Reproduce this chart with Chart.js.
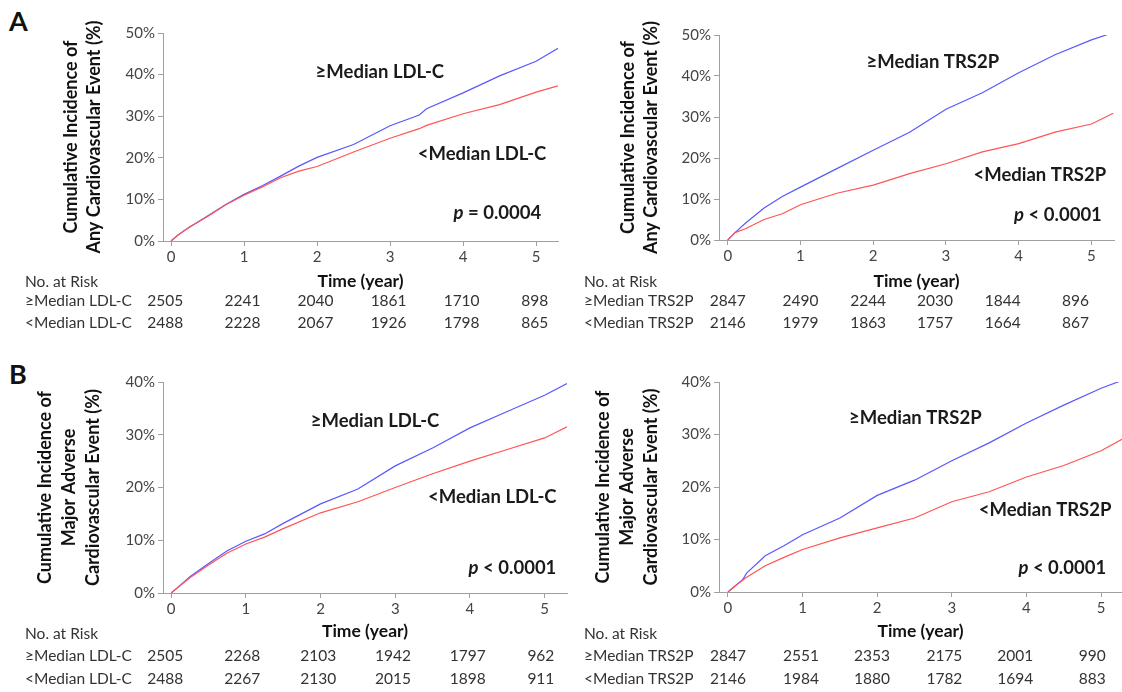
<!DOCTYPE html>
<html>
<head>
<meta charset="utf-8">
<script src="https://cdn.jsdelivr.net/npm/chart.js@4.4.0/dist/chart.umd.min.js"></script>
<style>
  body { margin: 0; background: #fff; width: 1122px; height: 692px; position: relative; overflow: hidden; font-family: Lato, sans-serif; }
  .panel { position: absolute; }
  .tag { position: absolute; font: bold 27px Lato, sans-serif; color: #111; }
</style>
</head>
<body>
<div class="tag" style="left:9px;top:4px">A</div>
<div class="tag" style="left:9px;top:357px">B</div>
<div class="panel" style="left:20px;top:20px;width:550px;height:320px"><canvas id="aLdl"></canvas></div>
<div class="panel" style="left:580px;top:20px;width:542px;height:320px"><canvas id="aTrs"></canvas></div>
<div class="panel" style="left:20px;top:370px;width:550px;height:322px"><canvas id="bLdl"></canvas></div>
<div class="panel" style="left:580px;top:370px;width:542px;height:322px"><canvas id="bTrs"></canvas></div>
<script>
// x axis ticks (years) shared by all panels
const yearTicks = [0, 1, 2, 3, 4, 5];

// A left: any cardiovascular event, split by LDL-C
const aLdlYears = [0, 0.1, 0.25, 0.5, 0.75, 1, 1.25, 1.5, 1.75, 2, 2.5, 3, 3.4, 3.5, 4, 4.5, 5, 5.3];
const aLdlHigh = [0, 1.5, 3.3, 6.0, 8.8, 11.2, 13.3, 15.6, 18.0, 20.1, 23.2, 27.7, 30.3, 31.8, 35.6, 39.7, 43.2, 46.3];
const aLdlLow = [0, 1.5, 3.3, 5.9, 8.7, 11.0, 13.0, 15.2, 16.8, 17.9, 21.4, 24.7, 27.0, 27.8, 30.6, 32.8, 35.8, 37.3];
const aLdlRiskHigh = [2505, 2241, 2040, 1861, 1710, 898];
const aLdlRiskLow = [2488, 2228, 2067, 1926, 1798, 865];

// A right: any cardiovascular event, split by TRS2P
const aTrsYears = [0, 0.1, 0.25, 0.5, 0.75, 1, 1.5, 2, 2.5, 3, 3.5, 4, 4.5, 5, 5.3];
const aTrsHigh = [0, 1.8, 4.2, 7.8, 10.6, 12.9, 17.4, 21.9, 26.3, 31.9, 35.9, 40.8, 45.2, 48.8, 50.6];
const aTrsLow = [0, 1.8, 2.8, 5.0, 6.4, 8.6, 11.4, 13.4, 16.2, 18.6, 21.5, 23.5, 26.3, 28.3, 30.9];
const aTrsRiskHigh = [2847, 2490, 2244, 2030, 1844, 896];
const aTrsRiskLow = [2146, 1979, 1863, 1757, 1664, 867];

// B left: major adverse cardiovascular event, split by LDL-C
const bLdlYears = [0, 0.1, 0.25, 0.5, 0.75, 1, 1.25, 1.5, 2, 2.5, 3, 3.5, 4, 4.5, 5, 5.3];
const bLdlHigh = [0, 1.2, 3.1, 5.6, 8.0, 9.8, 11.2, 13.2, 16.9, 19.7, 24.1, 27.5, 31.3, 34.4, 37.5, 39.7];
const bLdlLow = [0, 1.2, 2.9, 5.3, 7.6, 9.3, 10.6, 12.2, 15.2, 17.3, 20.0, 22.6, 25.0, 27.2, 29.4, 31.5];
const bLdlRiskHigh = [2505, 2268, 2103, 1942, 1797, 962];
const bLdlRiskLow = [2488, 2267, 2130, 2015, 1898, 911];

// B right: major adverse cardiovascular event, split by TRS2P
const bTrsYears = [0, 0.1, 0.2, 0.25, 0.5, 0.75, 1, 1.5, 2, 2.5, 3, 3.5, 4, 4.5, 5, 5.28];
const bTrsHigh = [0, 1.2, 2.4, 3.6, 6.9, 8.8, 10.9, 14.1, 18.4, 21.3, 25.0, 28.4, 32.2, 35.6, 38.8, 40.3];
const bTrsLow = [0, 1.2, 2.3, 2.8, 5.0, 6.6, 8.1, 10.3, 12.2, 14.1, 17.2, 19.1, 21.9, 24.1, 26.9, 29.1];
const bTrsRiskHigh = [2847, 2551, 2353, 2175, 2001, 990];
const bTrsRiskLow = [2146, 1984, 1880, 1782, 1694, 883];

const blue = 'rgb(88, 88, 255)';
const red = 'rgb(255, 84, 84)';
const axisGray = '#a0a0a0';

// draws the in-plot group labels, the p value and the number-at-risk table
const panelText = {
    id: 'panelText',
    afterDraw(chart, args, opts) {
        const { ctx } = chart;
        const x = chart.scales.x, y = chart.scales.y;
        ctx.save();
        ctx.textBaseline = 'middle';
        ctx.fillStyle = '#1a1a1a';
        ctx.textAlign = 'center';
        ctx.font = 'bold 18.5px Lato';
        opts.labels.forEach(l => {
            ctx.fillText(l.text, x.getPixelForValue(l.x), y.getPixelForValue(l.y));
        });

        // p value, italic p
        const px = x.getPixelForValue(opts.p.x), py = y.getPixelForValue(opts.p.y);
        ctx.font = 'italic bold 18.5px Lato';
        const w1 = ctx.measureText('p').width;
        ctx.font = 'bold 18.5px Lato';
        const rest = ' ' + opts.p.text;
        const w2 = ctx.measureText(rest).width;
        ctx.textAlign = 'left';
        ctx.font = 'italic bold 18.5px Lato';
        ctx.fillText('p', px - (w1 + w2) / 2, py);
        ctx.font = 'bold 18.5px Lato';
        ctx.fillText(rest, px - (w1 + w2) / 2 + w1, py);

        // risk table
        const t = opts.table;
        ctx.fillStyle = '#333';
        ctx.font = '15.5px Lato';
        ctx.textAlign = 'left';
        ctx.fillText('No. at Risk', t.left, t.rows[0]);
        ctx.fillText(t.highName, t.left, t.rows[1]);
        ctx.fillText(t.lowName, t.left, t.rows[2]);
        ctx.textAlign = 'center';
        t.high.forEach((n, i) => ctx.fillText(n, x.getPixelForValue(t.cols[i]), t.rows[1]));
        t.low.forEach((n, i) => ctx.fillText(n, x.getPixelForValue(t.cols[i]), t.rows[2]));
        ctx.restore();
    }
};

function buildChart(id, c) {
    return new Chart(document.getElementById(id), {
        type: 'line',
        data: {
            datasets: [{
                label: c.lowName,
                data: c.years.map((t, i) => ({ x: t, y: c.low[i] })),
                borderColor: red,
                borderWidth: 1.2,
                pointRadius: 0,
                fill: false
            },
            {
                label: c.highName,
                data: c.years.map((t, i) => ({ x: t, y: c.high[i] })),
                borderColor: blue,
                borderWidth: 1.2,
                pointRadius: 0,
                fill: false
            }]
        },
        options: {
            responsive: true,
            maintainAspectRatio: false,
            animation: false,
            layout: { padding: { top: c.padTop, right: c.padRight, bottom: c.padBottom, left: 0 } },
            plugins: {
                legend: { display: false },
                tooltip: { enabled: false },
                panelText: {
                    labels: c.labels,
                    p: c.p,
                    table: {
                        left: c.tableLeft,
                        rows: c.tableRows,
                        cols: c.tableCols,
                        highName: c.highName,
                        lowName: c.lowName,
                        high: c.riskHigh,
                        low: c.riskLow
                    }
                }
            },
            scales: {
                x: {
                    type: 'linear',
                    min: c.xMin,
                    max: c.xMax,
                    afterBuildTicks: s => { s.ticks = yearTicks.map(v => ({ value: v })); },
                    afterFit: s => { s.height = c.xHeight; },
                    grid: { drawOnChartArea: false, drawTicks: true, tickLength: 5, color: axisGray },
                    border: { color: axisGray, width: 1 },
                    ticks: { font: { family: 'Lato', size: 15 }, color: '#444', padding: 2, maxRotation: 0 },
                    title: {
                        display: true,
                        text: 'Time (year)',
                        font: { family: 'Lato', size: 17.5, weight: 'bold' },
                        color: '#111',
                        padding: 0
                    }
                },
                y: {
                    min: 0,
                    max: c.yMax,
                    afterFit: s => { s.width = c.yWidth; },
                    grid: { drawOnChartArea: false, drawTicks: true, tickLength: 5, color: axisGray },
                    border: { color: axisGray, width: 1 },
                    ticks: { stepSize: 10, font: { family: 'Lato', size: 15 }, color: '#444', padding: 3, callback: v => v + '%' },
                    title: {
                        display: true,
                        text: c.yTitle,
                        font: { family: 'Lato', size: 18, weight: 'bold', lineHeight: c.yTitleLine },
                        color: '#111',
                        padding: { top: c.yTitlePad, bottom: 0 }
                    }
                }
            }
        },
        plugins: [panelText]
    });
}

buildChart('aLdl', {
    years: aLdlYears, high: aLdlHigh, low: aLdlLow,
    riskHigh: aLdlRiskHigh, riskLow: aLdlRiskLow,
    highName: '\u2265Median LDL-C', lowName: '<Median LDL-C',
    xMin: -0.11, xMax: 5.3, yMax: 50,
    padTop: 13, padRight: 12, padBottom: 48, xHeight: 51, yWidth: 143,
    yTitle: ['Cumulative Incidence of', 'Any Cardiovascular Event (%)'], yTitleLine: 1.25, yTitlePad: 40,
    labels: [{ text: '\u2265Median LDL-C', x: 2.86, y: 40.6 }, { text: '<Median LDL-C', x: 4.26, y: 20.9 }],
    p: { text: '= 0.0004', x: 4.47, y: 6.7 },
    tableLeft: 5, tableRows: [262, 281, 303], tableCols: [-0.08, 0.98, 1.98, 2.98, 3.98, 4.98]
});

buildChart('aTrs', {
    years: aTrsYears, high: aTrsHigh, low: aTrsLow,
    riskHigh: aTrsRiskHigh, riskLow: aTrsRiskLow,
    highName: '\u2265Median TRS2P', lowName: '<Median TRS2P',
    xMin: -0.12, xMax: 5.31, yMax: 50,
    padTop: 15, padRight: 8, padBottom: 48, xHeight: 52, yWidth: 139,
    yTitle: ['Cumulative Incidence of', 'Any Cardiovascular Event (%)'], yTitleLine: 1.25, yTitlePad: 37,
    labels: [{ text: '\u2265Median TRS2P', x: 2.82, y: 43.4 }, { text: '<Median TRS2P', x: 4.29, y: 15.9 }],
    p: { text: '< 0.0001', x: 4.54, y: 6.1 },
    tableLeft: 4, tableRows: [262, 281, 303], tableCols: [0, 1, 1.93, 2.85, 3.78, 4.78]
});

buildChart('bLdl', {
    years: bLdlYears, high: bLdlHigh, low: bLdlLow,
    riskHigh: bLdlRiskHigh, riskLow: bLdlRiskLow,
    highName: '\u2265Median LDL-C', lowName: '<Median LDL-C',
    xMin: -0.11, xMax: 5.3, yMax: 40,
    padTop: 12, padRight: 3, padBottom: 50, xHeight: 49, yWidth: 143,
    yTitle: ['Cumulative Incidence of', 'Major Adverse', 'Cardiovascular Event (%)'], yTitleLine: 1.33, yTitlePad: 13,
    labels: [{ text: '\u2265Median LDL-C', x: 2.73, y: 32.6 }, { text: '<Median LDL-C', x: 4.30, y: 18.2 }],
    p: { text: '< 0.0001', x: 4.57, y: 4.7 },
    tableLeft: 5, tableRows: [264, 286, 309], tableCols: [-0.08, 0.95, 1.97, 2.97, 3.97, 4.95]
});

buildChart('bTrs', {
    years: bTrsYears, high: bTrsHigh, low: bTrsLow,
    riskHigh: bTrsRiskHigh, riskLow: bTrsRiskLow,
    highName: '\u2265Median TRS2P', lowName: '<Median TRS2P',
    xMin: -0.12, xMax: 5.28, yMax: 40,
    padTop: 12, padRight: 0, padBottom: 50, xHeight: 50, yWidth: 139,
    yTitle: ['Cumulative Incidence of', 'Major Adverse', 'Cardiovascular Event (%)'], yTitleLine: 1.33, yTitlePad: 11,
    labels: [{ text: '\u2265Median TRS2P', x: 2.51, y: 33.1 }, { text: '<Median TRS2P', x: 4.25, y: 15.6 }],
    p: { text: '< 0.0001', x: 4.48, y: 4.6 },
    tableLeft: 4, tableRows: [264, 286, 309], tableCols: [0, 0.98, 1.93, 2.9, 3.85, 4.88]
});
</script>
</body>
</html>
